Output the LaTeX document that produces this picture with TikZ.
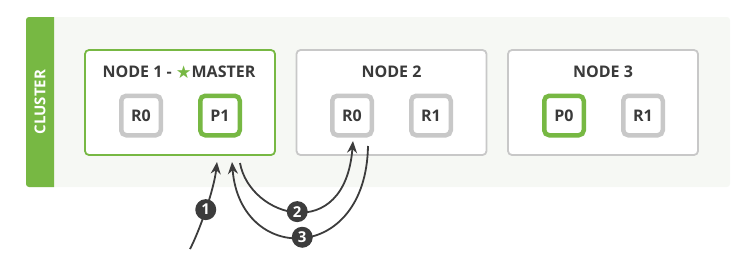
\documentclass[tikz,border=0pt]{standalone}
\usepackage{fontspec}
\setmainfont{Open Sans}
\newfontfamily\symfont{DejaVu Sans}
\usetikzlibrary{arrows.meta,calc}
\definecolor{esgreen}{HTML}{77B843}
\definecolor{esgray}{HTML}{C8C8C8}
\definecolor{estext}{HTML}{3A3A3A}
\definecolor{esbg}{HTML}{F6F8F4}
\definecolor{esdark}{HTML}{3C3C3C}
\begin{document}
\begin{tikzpicture}[x=1pt,y=-1pt,
  nodebox/.style={draw=esgray,line width=1.8pt,rounded corners=4pt,fill=white,minimum width=190pt,minimum height=105pt,inner sep=0pt},
  masterbox/.style={nodebox,draw=esgreen},
  title/.style={font=\bfseries\fontsize{16}{18}\selectfont,text=estext,inner sep=0pt},
  shard/.style={draw=esgray,line width=4.5pt,rounded corners=5pt,fill=white,minimum size=39.5pt,inner sep=0pt,font=\bfseries\fontsize{16}{18}\selectfont,text=estext},
  primary/.style={shard,draw=esgreen},
  conn/.style={draw=esdark,line width=1.8pt,-{Stealth[length=12pt,width=10pt]}},
  badge/.style={circle,fill=esdark,text=white,minimum size=21pt,inner sep=0pt,font=\bfseries\fontsize{15}{17}\selectfont}
]
\useasboundingbox (0,0) rectangle (750,271);
% cluster
\fill[esbg,rounded corners=3pt] (26,17) rectangle (730,187);
\begin{scope}
\clip (26,17) rectangle (54,187);
\fill[esgreen,rounded corners=3pt] (26,17) rectangle (62,187);
\end{scope}
\node[rotate=90,text=white,font=\bfseries\fontsize{15}{17}\selectfont,inner sep=0pt] (clusterlbl) at (40,102) {CLUSTER};
% nodes
\node[masterbox] (n1) at (180,102.5) {};
\node[nodebox] (n2) at (391.5,102.5) {};
\node[nodebox] (n3) at (603,102.5) {};
\node[title] (t1) at (179,72) {NODE 1 - {\color{esgreen}\symfont\fontsize{17.5}{19}\selectfont\raisebox{-0.3pt}{★}}MASTER};
\node[title] (t2) at (391.5,72) {NODE 2};
\node[title] (t3) at (603,72) {NODE 3};
% shards
\node[shard] (n1r0) at (141,115.5) {R0};
\node[primary] (n1p1) at (220,115.5) {P1};
\node[shard] (n2r0) at (352,115.5) {R0};
\node[shard] (n2r1) at (431,115.5) {R1};
\node[primary] (n3p0) at (564,115.5) {P0};
\node[shard] (n3r1) at (643,115.5) {R1};
% connector ends
\coordinate (a1s) at (190,249);
\coordinate (a1e) at (217,162);
\coordinate (a2s) at (240,163);
\coordinate (a2e) at (353,141);
\coordinate (a3s) at (368,146);
\coordinate (a3e) at (232,162);
\draw[conn] (a1s) .. controls (199,232) and (214,190) .. (a1e) node[badge,pos=0.5] (b1) {1};
\draw[conn] (a2s) .. controls (250,218) and (345,245) .. (a2e) node[badge,pos=0.5] (b2) {2};
\draw[conn] (a3s) .. controls (366,265) and (240,265) .. (a3e) node[badge,pos=0.5] (b3) {3};
\end{tikzpicture}
\end{document}
